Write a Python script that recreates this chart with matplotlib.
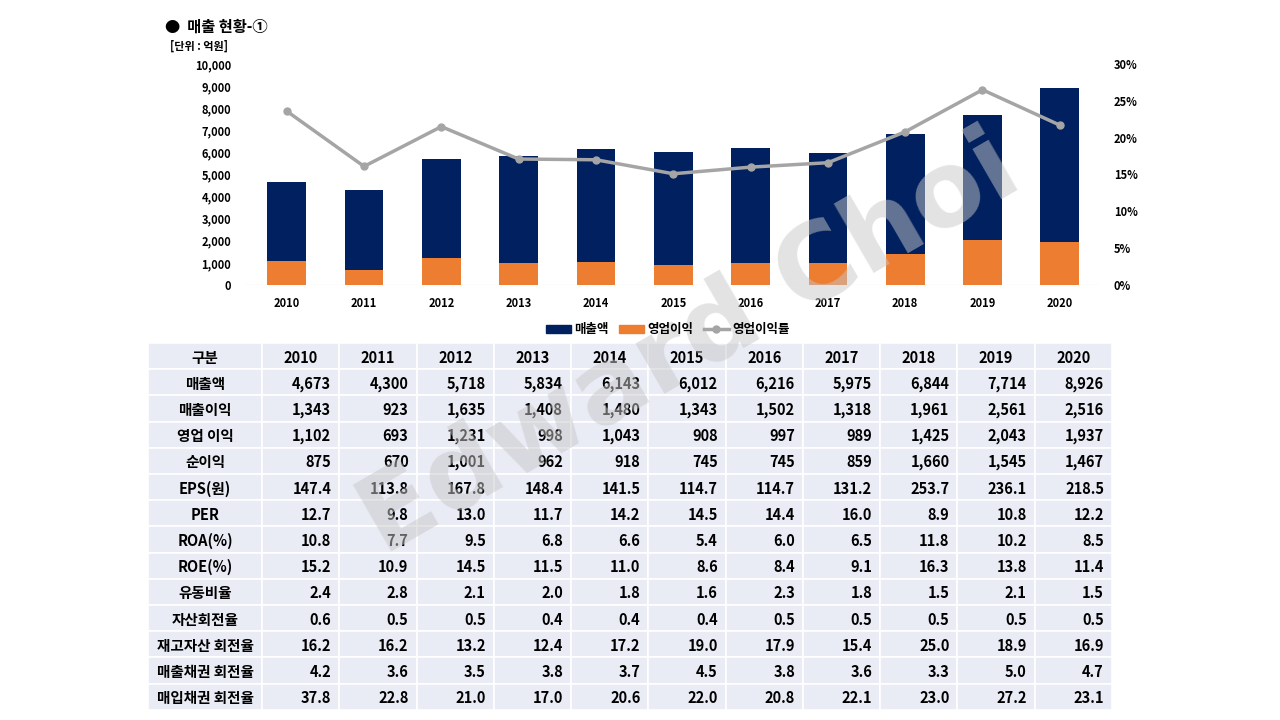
import matplotlib
matplotlib.use("Agg")
import matplotlib.pyplot as plt
from matplotlib.patches import Rectangle
from matplotlib.lines import Line2D

plt.rcParams['font.family'] = ['Noto Sans CJK KR', 'DejaVu Sans']
plt.rcParams['font.weight'] = 'bold'

years = ['2010', '2011', '2012', '2013', '2014', '2015', '2016', '2017', '2018', '2019', '2020']
sales = [4673, 4300, 5718, 5834, 6143, 6012, 6216, 5975, 6844, 7714, 8926]
op_profit = [1102, 693, 1231, 998, 1043, 908, 997, 989, 1425, 2043, 1937]
op_margin = [23.6, 16.1, 21.5, 17.1, 17.0, 15.1, 16.0, 16.6, 20.8, 26.5, 21.7]

row_names = ['매출액', '매출이익', '영업 이익', '순이익', 'EPS(원)', 'PER', 'ROA(%)', 'ROE(%)',
             '유동비율', '자산회전율', '재고자산 회전율', '매출채권 회전율', '매입채권 회전율']
rows = [
    ['4,673', '4,300', '5,718', '5,834', '6,143', '6,012', '6,216', '5,975', '6,844', '7,714', '8,926'],
    ['1,343', '923', '1,635', '1,408', '1,480', '1,343', '1,502', '1,318', '1,961', '2,561', '2,516'],
    ['1,102', '693', '1,231', '998', '1,043', '908', '997', '989', '1,425', '2,043', '1,937'],
    ['875', '670', '1,001', '962', '918', '745', '745', '859', '1,660', '1,545', '1,467'],
    ['147.4', '113.8', '167.8', '148.4', '141.5', '114.7', '114.7', '131.2', '253.7', '236.1', '218.5'],
    ['12.7', '9.8', '13.0', '11.7', '14.2', '14.5', '14.4', '16.0', '8.9', '10.8', '12.2'],
    ['10.8', '7.7', '9.5', '6.8', '6.6', '5.4', '6.0', '6.5', '11.8', '10.2', '8.5'],
    ['15.2', '10.9', '14.5', '11.5', '11.0', '8.6', '8.4', '9.1', '16.3', '13.8', '11.4'],
    ['2.4', '2.8', '2.1', '2.0', '1.8', '1.6', '2.3', '1.8', '1.5', '2.1', '1.5'],
    ['0.6', '0.5', '0.5', '0.4', '0.4', '0.4', '0.5', '0.5', '0.5', '0.5', '0.5'],
    ['16.2', '16.2', '13.2', '12.4', '17.2', '19.0', '17.9', '15.4', '25.0', '18.9', '16.9'],
    ['4.2', '3.6', '3.5', '3.8', '3.7', '4.5', '3.8', '3.6', '3.3', '5.0', '4.7'],
    ['37.8', '22.8', '21.0', '17.0', '20.6', '22.0', '20.8', '22.1', '23.0', '27.2', '23.1'],
]

W, H = 1280, 720
fig = plt.figure(figsize=(12.8, 7.2), dpi=100)

# chart
ax = fig.add_axes([245 / W, 1 - 285 / H, 855 / W, 221 / H])
x = list(range(len(years)))
ax.bar(x, sales, width=0.5, color='#002060', zorder=2)
ax.bar(x, op_profit, width=0.5, color='#ED7D31', zorder=3)
ax.set_xlim(-0.54, 10.52)
ax.set_ylim(0, 10000)
ax.set_yticks(range(0, 10001, 1000))
ax.set_yticklabels([f'{v:,}' for v in range(0, 10001, 1000)])
ax.set_xticks(x)
ax.set_xticklabels(years)
ax.tick_params(labelsize=8, length=0)
ax.tick_params(axis='x', pad=9)
ax.tick_params(axis='y', pad=10)
for s in ax.spines.values():
    s.set_visible(False)
ax.axhline(0, color='#D9D9D9', lw=0.8, zorder=1)

ax2 = ax.twinx()
ax2.plot(x, op_margin, color='#A5A5A5', lw=2.5, marker='o', ms=5, zorder=4)
ax2.set_ylim(0, 30)
ax2.set_yticks(range(0, 31, 5))
ax2.set_yticklabels([f'{v}%' for v in range(0, 31, 5)])
ax2.tick_params(labelsize=8, length=0, pad=10)
for s in ax2.spines.values():
    s.set_visible(False)

handles = [Rectangle((0, 0), 1, 1, color='#002060'),
           Rectangle((0, 0), 1, 1, color='#ED7D31'),
           Line2D([0], [0], color='#A5A5A5', lw=2.5, marker='o', ms=5)]
fig.legend(handles, ['매출액', '영업이익', '영업이익률'], loc='center', ncol=3,
           bbox_to_anchor=(668 / W, 1 - 330 / H), frameon=False, fontsize=9,
           handlelength=2, columnspacing=0.8, handletextpad=0.3)

fig.text(165 / W, 1 - 27 / H, '●  매출 현황-①', fontsize=11, va='center', fontweight='bold')
fig.text(170 / W, 1 - 46 / H, '[단위 : 억원]', fontsize=8, va='center', fontweight='bold')

# table
tx = fig.add_axes([0, 0, 1, 1])
tx.set_xlim(0, W)
tx.set_ylim(H, 0)
tx.axis('off')
left, first_w, col_w = 148, 114, 850 / 11
top, row_h = 343, 26.2
header = ['구분'] + years
all_rows = [header] + [[n] + r for n, r in zip(row_names, rows)]
for i, r in enumerate(all_rows):
    y0 = top + i * row_h
    for j, txt in enumerate(r):
        if j == 0:
            x0, w = left, first_w
        else:
            x0, w = left + first_w + (j - 1) * col_w, col_w
        tx.add_patch(Rectangle((x0, y0), w, row_h, facecolor='#E9EBF5',
                               edgecolor='white', lw=1.2))
        yc = y0 + row_h / 2 + 1.5
        if j == 0 or i == 0:
            tx.text(x0 + w / 2, yc, txt, ha='center', va='center', fontsize=10.5)
        else:
            tx.text(x0 + w - 8, yc, txt, ha='right', va='center', fontsize=10.5)

# watermark
fig.text(690 / W, 1 - 345 / H, 'Edward Choi', fontsize=76, color='#C8C8C8', alpha=0.5,
         rotation=30, ha='center', va='center', fontweight='bold', family='DejaVu Sans')

fig.savefig('out.png', dpi=100)
